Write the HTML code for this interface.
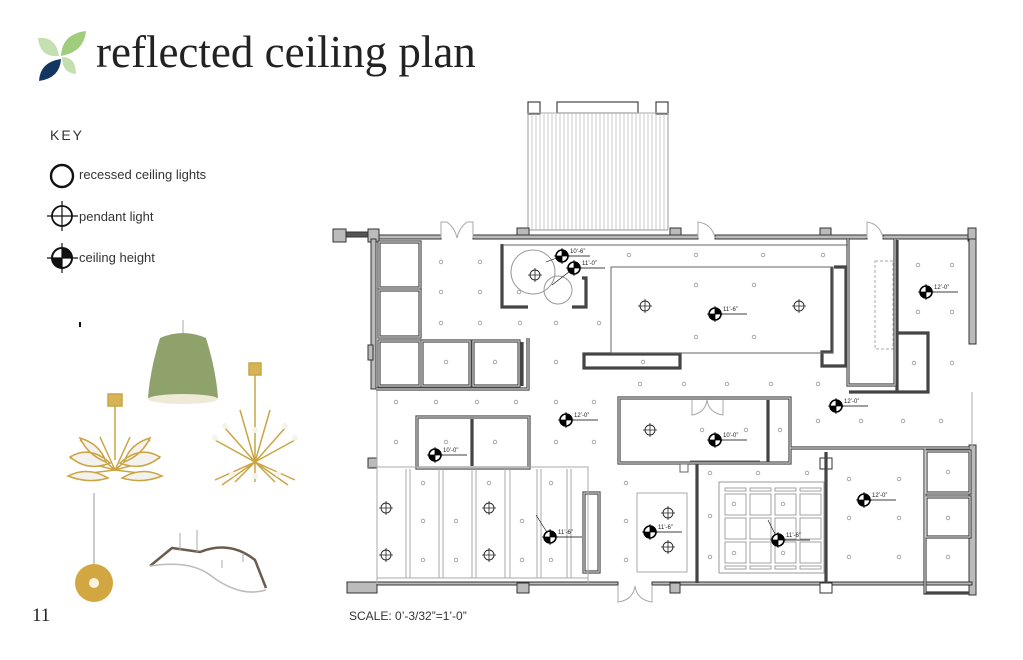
<!DOCTYPE html>
<html><head><meta charset="utf-8"><style>
html,body{margin:0;padding:0;background:#fff;}
svg{display:block}
</style></head><body>
<svg width="1023" height="660" viewBox="0 0 1023 660" xmlns="http://www.w3.org/2000/svg">
<defs>
<g id="m"><circle r="6" fill="#fff" stroke="#000" stroke-width="1.6"/><path d="M0 0V-6A6 6 0 0 1 6 0Z M0 0V6A6 6 0 0 1 -6 0Z" fill="#000"/><path d="M-8 0H8M0 -8V8" stroke="#000" stroke-width="0.8"/></g>
<g id="p"><circle r="5" fill="none" stroke="#222" stroke-width="0.9"/><path d="M-7 0H7M0 -7V7" stroke="#222" stroke-width="0.8"/></g>
<g id="d"><circle r="1.8" fill="none" stroke="#999" stroke-width="0.8"/></g>
</defs>

<!-- logo -->
<path d="M38 38 Q56 36 59 56 Q40 58 38 38Z" fill="#c4e0b0"/>
<path d="M86 31 Q84 52 61 56 Q62 34 86 31Z" fill="#9fcd7c"/>
<path d="M39 81 Q40 62 61 59 Q60 78 39 81Z" fill="#12365f"/>
<path d="M62 57 Q76 57 76 74 Q62 73 62 57Z" fill="#c4e0b0"/>
<text x="96" y="67" font-family="Liberation Serif, serif" font-size="45" fill="#222">reflected ceiling plan</text>

<!-- key -->
<text x="50" y="140" font-family="Liberation Sans, sans-serif" font-size="14" letter-spacing="2" fill="#333">KEY</text>
<circle cx="62" cy="176" r="11" fill="none" stroke="#111" stroke-width="2.4"/>
<text x="79" y="179" font-family="Liberation Sans, sans-serif" font-size="13" fill="#333">recessed ceiling lights</text>
<circle cx="62" cy="216" r="10" fill="none" stroke="#111" stroke-width="1.8"/>
<path d="M47 216H78M62 201V231" stroke="#111" stroke-width="1.2"/>
<text x="79" y="221" font-family="Liberation Sans, sans-serif" font-size="13" fill="#333">pendant light</text>
<circle cx="62" cy="258" r="10" fill="#fff" stroke="#111" stroke-width="2"/>
<path d="M62 258V248A10 10 0 0 1 72 258Z M62 258V268A10 10 0 0 1 52 258Z" fill="#111"/>
<path d="M47 258H78M62 243V273" stroke="#111" stroke-width="1.2"/>
<text x="79" y="262" font-family="Liberation Sans, sans-serif" font-size="13" fill="#333">ceiling height</text>

<!-- product images -->
<rect x="79" y="322" width="2" height="5" fill="#111"/>
<line x1="183" y1="320" x2="183" y2="337" stroke="#aaa"/>
<path d="M160 338 Q183 328 206 338 Q216 370 218 398 Q183 408 148 398 Q150 370 160 338Z" fill="#8fa26c"/>
<ellipse cx="183" cy="399" rx="35" ry="5" fill="#efe9d8"/>
<g stroke="#c9a544" stroke-width="1.5" fill="none">
<rect x="108" y="394" width="14" height="12" fill="#d6b354"/>
<line x1="115" y1="406" x2="115" y2="460"/>
<path d="M115 470 L80 440 M115 470 L150 440 M115 470 L70 458 M115 470 L160 458 M115 470 L100 437 M115 470 L130 437 M115 470 L75 475 M115 470 L155 475"/>
<path d="M70 457 Q90 445 110 463 Q88 472 70 457Z M160 457 Q140 445 120 463 Q142 472 160 457Z M68 476 Q88 466 108 478 Q88 484 68 476Z M162 476 Q142 466 122 478 Q142 484 162 476Z M80 438 Q100 444 106 462 Q88 455 80 438Z M150 438 Q130 444 124 462 Q142 455 150 438Z" fill="#f4f2ee"/>
<rect x="249" y="363" width="12" height="12" fill="#d6b354"/>
<line x1="255" y1="375" x2="255" y2="462"/>
<path d="M255 462 L215 440 M255 462 L295 440 M255 462 L225 428 M255 462 L285 428 M255 462 L215 480 M255 462 L295 480 M255 462 L235 482 M255 462 L275 482 M255 462 L255 482 M255 462 L222 485 M255 462 L288 485 M255 462 L240 410 M255 462 L270 410"/>
<line x1="94" y1="493" x2="94" y2="565" stroke="#999" stroke-width="1"/>
</g>
<g fill="#f5f2e8"><circle cx="255" cy="430" r="3"/><circle cx="215" cy="438" r="3"/><circle cx="295" cy="438" r="3"/><circle cx="225" cy="426" r="3"/><circle cx="285" cy="426" r="3"/><circle cx="255" cy="476" r="3"/><circle cx="232" cy="474" r="3"/><circle cx="278" cy="474" r="3"/></g>
<circle cx="94" cy="583" r="19" fill="#d2a640"/>
<circle cx="94" cy="583" r="5" fill="#fbf5e0"/>
<path d="M150 566 L172 548 L200 552 Q230 540 255 560 L266 588" stroke="#6b5d4d" stroke-width="2.5" fill="none"/>
<path d="M150 566 Q190 560 210 575 Q240 598 266 590" stroke="#bbb" stroke-width="1.5" fill="none"/>
<path d="M180 533V550M197 530V552M222 560V568M243 553V562" stroke="#aaa" stroke-width="1"/>

<text x="32" y="621" font-family="Liberation Serif, serif" font-size="19" fill="#222">11</text>
<text x="349" y="620" font-family="Liberation Sans, sans-serif" font-size="12" fill="#333">SCALE: 0’-3/32”=1’-0”</text>

<!-- PLAN -->
<g fill="none" stroke="#444">
<rect x="528" y="102" width="12" height="12" stroke-width="1.2"/>
<rect x="656" y="102" width="12" height="12" stroke-width="1.2"/>
<rect x="557" y="102" width="81" height="11" stroke-width="1.2"/>
<line x1="528" y1="113" x2="668" y2="113" stroke="#aaa"/>
<path d="M532 114V230M536 114V230M540 114V230M544 114V230M548 114V230M552 114V230M556 114V230M560 114V230M564 114V230M568 114V230M572 114V230M576 114V230M580 114V230M584 114V230M588 114V230M592 114V230M596 114V230M600 114V230M604 114V230M608 114V230M612 114V230M616 114V230M620 114V230M624 114V230M628 114V230M632 114V230M636 114V230M640 114V230M644 114V230M648 114V230M652 114V230M656 114V230M660 114V230M664 114V230" stroke="#bbb" stroke-width="0.8"/>
<line x1="528" y1="230" x2="668" y2="230" stroke="#999"/>
<line x1="528" y1="113" x2="528" y2="230" stroke="#999"/>
<line x1="668" y1="113" x2="668" y2="230" stroke="#999"/>
</g>

<g fill="#bbb" stroke="#333" stroke-width="1">
<rect x="333" y="229" width="13" height="13"/>
<rect x="346" y="232" width="22" height="5" fill="#555"/>
<rect x="368" y="229" width="11" height="13"/>
<rect x="517" y="228" width="12" height="11"/>
<rect x="670" y="228" width="11" height="11"/>
<rect x="820" y="228" width="11" height="11"/>
<rect x="968" y="228" width="8" height="13"/>
<rect x="379" y="235" width="62" height="4"/>
<rect x="473" y="235" width="225" height="4"/>
<rect x="715" y="235" width="152" height="4"/>
<rect x="883" y="235" width="85" height="4"/>
<rect x="371" y="239" width="5" height="150"/>
<rect x="368" y="345" width="5" height="15"/>
<rect x="969" y="239" width="7" height="105"/>
<rect x="969" y="445" width="7" height="150"/>
<rect x="347" y="582" width="30" height="11"/>
<rect x="377" y="582" width="241" height="3"/>
<rect x="652" y="582" width="320" height="3"/>
<rect x="517" y="583" width="12" height="10"/>
<rect x="670" y="583" width="10" height="10"/>
<rect x="820" y="583" width="12" height="10" fill="#fff"/>
<rect x="368" y="458" width="9" height="10"/>
<rect x="820" y="458" width="12" height="11" fill="#fff"/>
</g>

<g fill="none" stroke="#444" stroke-width="3.2">
<rect x="379" y="242" width="41" height="46"/>
<rect x="379" y="290" width="41" height="47"/>
<rect x="379" y="341" width="41" height="45"/>
<rect x="422" y="341" width="48" height="45"/>
<rect x="473" y="341" width="46" height="45"/>
<path d="M376 389H528V338M522 342V386"/>
<path d="M502 244V307H528M582 278H586V307H572"/>
<path d="M834 267H846V366H822V352H832V267"/>
<path d="M848 239V385H895V239"/>
<path d="M897 392V240M897 333H928V392H849"/>
<rect x="584" y="354" width="96" height="14"/>
<rect x="417" y="417" width="112" height="51"/>
<line x1="472" y1="419" x2="472" y2="466"/>
<rect x="619" y="398" width="171" height="65"/>
<line x1="768" y1="400" x2="768" y2="462"/>
<path d="M790 448H969M925 448V593H969"/>
<rect x="926" y="451" width="44" height="42"/>
<rect x="926" y="497" width="44" height="40"/>
<path d="M697 463V583M826 452V583"/>
<rect x="584" y="493" width="15" height="79"/>
</g>
<g fill="none" stroke="#ccc" stroke-width="1.2">
<rect x="379" y="242" width="41" height="46"/>
<rect x="379" y="290" width="41" height="47"/>
<rect x="379" y="341" width="41" height="45"/>
<rect x="422" y="341" width="48" height="45"/>
<rect x="473" y="341" width="46" height="45"/>
<path d="M376 389H528V338"/>
<path d="M848 239V385H895V239"/>
<rect x="417" y="417" width="112" height="51"/>
<rect x="619" y="398" width="171" height="65"/>
<path d="M790 448H969M925 448V593"/>
<rect x="926" y="451" width="44" height="42"/>
<rect x="926" y="497" width="44" height="40"/>
<rect x="584" y="493" width="15" height="79"/>
</g>
<g fill="none" stroke="#666" stroke-width="1">
<rect x="680" y="464" width="8" height="8" fill="#fff"/>
<line x1="690" y1="461" x2="760" y2="461"/>
<rect x="611" y="267" width="222" height="86"/>
<path d="M502 245H848"/>
<rect x="875" y="261" width="18" height="88" stroke-dasharray="3 2" stroke="#aaa"/>
<circle cx="533" cy="272" r="22" stroke="#999"/>
<circle cx="558" cy="290" r="14" stroke="#999"/>
<path d="M377 391V584M368 467H588V584" stroke="#aaa"/>
<path d="M406 469V578M410 469V578M439 469V578M443 469V578M472 469V578M476 469V578M505 469V578M510 469V578M537 469V578M541 469V578M567 469V578M571 469V578" stroke="#aaa"/>
<line x1="377" y1="578" x2="588" y2="578" stroke="#aaa"/>
<rect x="637" y="493" width="50" height="79" stroke="#aaa"/>
<rect x="719" y="482" width="105" height="91" stroke="#999"/>
<path d="M972 392V448" stroke="#aaa"/>
<path d="M441 238V222H447Q455 228 457 238M473 238V222H467Q459 228 457 238" stroke="#aaa"/>
<path d="M698 238V222Q712 224 715 238" stroke="#aaa"/>
<path d="M867 238V222Q880 224 883 238" stroke="#aaa"/>
<path d="M692 400V415Q705 413 707 400M723 400V415Q709 413 707 400" stroke="#aaa"/>
<path d="M618 586V602Q633 600 635 586M652 586V602Q637 600 635 586" stroke="#aaa"/>
</g>
<g fill="none" stroke="#999" stroke-width="0.9">
<rect x="725" y="488" width="21" height="3"/><rect x="750" y="488" width="21" height="3"/><rect x="775" y="488" width="21" height="3"/><rect x="800" y="488" width="21" height="3"/>
<rect x="725" y="566" width="21" height="3"/><rect x="750" y="566" width="21" height="3"/><rect x="775" y="566" width="21" height="3"/><rect x="800" y="566" width="21" height="3"/>
<rect x="725" y="494" width="21" height="21"/><rect x="750" y="494" width="21" height="21"/><rect x="775" y="494" width="21" height="21"/><rect x="800" y="494" width="21" height="21"/>
<rect x="725" y="518" width="21" height="21"/><rect x="750" y="518" width="21" height="21"/><rect x="775" y="518" width="21" height="21"/><rect x="800" y="518" width="21" height="21"/>
<rect x="725" y="542" width="21" height="21"/><rect x="750" y="542" width="21" height="21"/><rect x="775" y="542" width="21" height="21"/><rect x="800" y="542" width="21" height="21"/>
</g>

<g>
<use href="#d" x="629" y="255"/><use href="#d" x="696" y="255"/><use href="#d" x="763" y="255"/><use href="#d" x="823" y="255"/>
<use href="#d" x="441" y="262"/><use href="#d" x="480" y="262"/><use href="#d" x="918" y="265"/><use href="#d" x="952" y="265"/>
<use href="#d" x="441" y="292"/><use href="#d" x="480" y="292"/><use href="#d" x="519" y="292"/>
<use href="#d" x="696" y="285"/><use href="#d" x="754" y="285"/>
<use href="#d" x="441" y="323"/><use href="#d" x="480" y="323"/><use href="#d" x="520" y="323"/><use href="#d" x="556" y="323"/><use href="#d" x="599" y="323"/>
<use href="#d" x="696" y="337"/><use href="#d" x="754" y="337"/><use href="#d" x="918" y="312"/><use href="#d" x="952" y="312"/>
<use href="#d" x="446" y="362"/><use href="#d" x="495" y="362"/><use href="#d" x="556" y="362"/><use href="#d" x="643" y="362"/><use href="#d" x="914" y="363"/><use href="#d" x="952" y="363"/>
<use href="#d" x="640" y="384"/><use href="#d" x="684" y="384"/><use href="#d" x="727" y="384"/><use href="#d" x="771" y="384"/><use href="#d" x="818" y="384"/>
<use href="#d" x="396" y="402"/><use href="#d" x="436" y="402"/><use href="#d" x="477" y="402"/><use href="#d" x="516" y="402"/><use href="#d" x="556" y="402"/><use href="#d" x="594" y="402"/>
<use href="#d" x="818" y="421"/><use href="#d" x="861" y="421"/><use href="#d" x="903" y="421"/><use href="#d" x="941" y="421"/>
<use href="#d" x="396" y="442"/><use href="#d" x="446" y="442"/><use href="#d" x="495" y="442"/><use href="#d" x="556" y="442"/><use href="#d" x="594" y="442"/>
<use href="#d" x="702" y="430"/><use href="#d" x="746" y="430"/><use href="#d" x="780" y="430"/>
<use href="#d" x="710" y="473"/><use href="#d" x="758" y="473"/><use href="#d" x="807" y="473"/>
<use href="#d" x="849" y="479"/><use href="#d" x="899" y="479"/><use href="#d" x="948" y="472"/>
<use href="#d" x="423" y="483"/><use href="#d" x="489" y="483"/><use href="#d" x="551" y="483"/><use href="#d" x="626" y="483"/>
<use href="#d" x="423" y="521"/><use href="#d" x="456" y="521"/><use href="#d" x="522" y="521"/><use href="#d" x="626" y="521"/><use href="#d" x="710" y="516"/>
<use href="#d" x="849" y="518"/><use href="#d" x="899" y="518"/><use href="#d" x="948" y="518"/>
<use href="#d" x="423" y="560"/><use href="#d" x="456" y="560"/><use href="#d" x="522" y="560"/><use href="#d" x="551" y="560"/><use href="#d" x="626" y="560"/><use href="#d" x="710" y="557"/>
<use href="#d" x="849" y="557"/><use href="#d" x="899" y="557"/><use href="#d" x="948" y="557"/>
<use href="#d" x="734" y="504"/><use href="#d" x="783" y="504"/><use href="#d" x="734" y="553"/><use href="#d" x="783" y="553"/>
</g>

<use href="#p" x="535" y="275"/><use href="#p" x="645" y="306"/><use href="#p" x="799" y="306"/>
<use href="#p" x="650" y="430"/>
<use href="#p" x="386" y="508"/><use href="#p" x="489" y="508"/><use href="#p" x="386" y="555"/><use href="#p" x="489" y="555"/>
<use href="#p" x="668" y="513"/><use href="#p" x="668" y="547"/>

<g stroke="#000" stroke-width="0.8">
<path d="M562 256H590M574 268H605M715 314H747M926 292H958M566 420H598M435 455H467M715 440H747M836 406H868M864 500H896M550 537H582M650 532H682M778 540H810"/>
<path d="M546 262L562 256M552 285L574 268M536 515L550 537M768 520L778 540" stroke-width="0.6"/>
</g>
<use href="#m" x="562" y="256"/><use href="#m" x="574" y="268"/><use href="#m" x="715" y="314"/><use href="#m" x="926" y="292"/>
<use href="#m" x="566" y="420"/><use href="#m" x="435" y="455"/><use href="#m" x="715" y="440"/><use href="#m" x="836" y="406"/>
<use href="#m" x="864" y="500"/><use href="#m" x="550" y="537"/><use href="#m" x="650" y="532"/><use href="#m" x="778" y="540"/>
<g font-family="Liberation Sans, sans-serif" font-size="6" fill="#222">
<text x="570" y="253">10’-6”</text><text x="582" y="265">11’-0”</text><text x="723" y="311">11’-6”</text><text x="934" y="289">12’-0”</text>
<text x="574" y="417">12’-0”</text><text x="443" y="452">10’-0”</text><text x="723" y="437">10’-0”</text><text x="844" y="403">12’-0”</text>
<text x="872" y="497">12’-0”</text><text x="558" y="534">11’-6”</text><text x="658" y="529">11’-6”</text><text x="786" y="537">11’-6”</text>
</g>
</svg>
</body></html>
